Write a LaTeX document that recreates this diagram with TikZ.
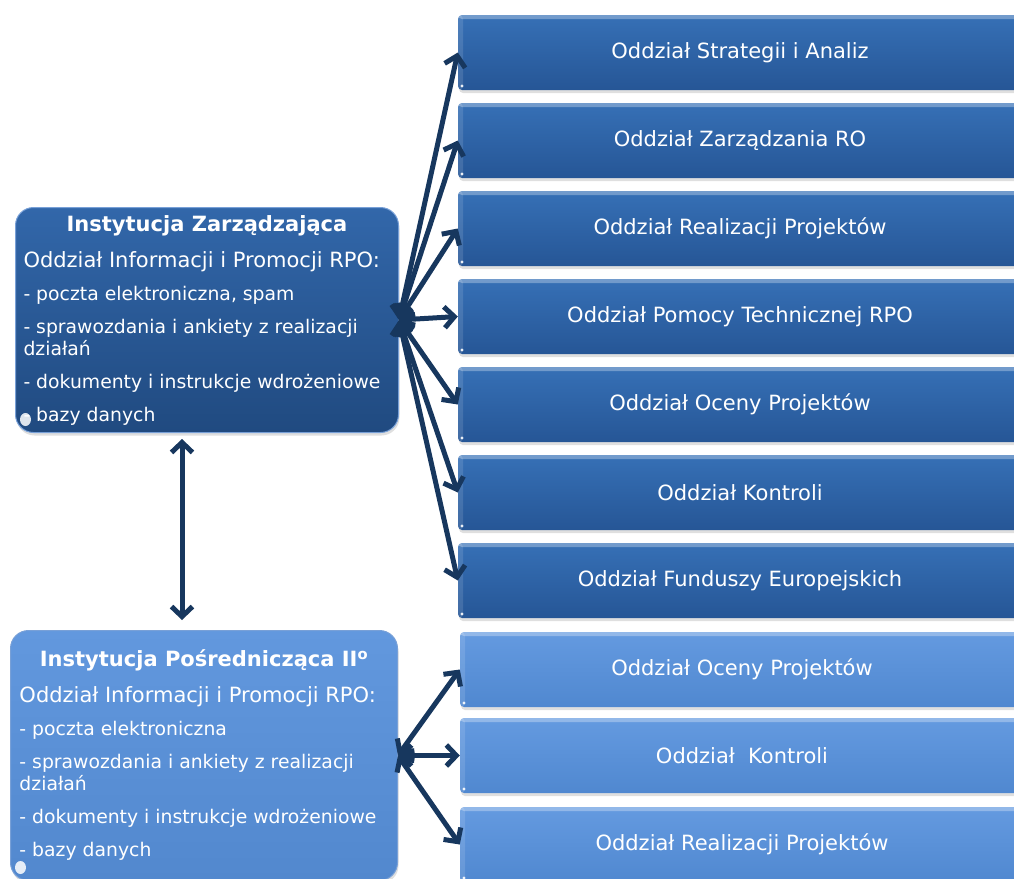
\documentclass[tikz,border=0pt]{standalone}
\usepackage{fontspec}
\setmainfont{DejaVu Sans}
\usetikzlibrary{arrows.meta,positioning,shadows}
\definecolor{dkTop}{RGB}{54,112,182}
\definecolor{dkBot}{RGB}{38,86,150}
\definecolor{ltTop}{RGB}{100,154,224}
\definecolor{ltBot}{RGB}{80,136,208}
\definecolor{izTop}{RGB}{50,103,170}
\definecolor{izBot}{RGB}{32,74,128}
\definecolor{ipTop}{RGB}{98,152,222}
\definecolor{ipBot}{RGB}{82,136,206}
\definecolor{edgeblue}{RGB}{120,160,215}
\definecolor{arrowblue}{RGB}{23,55,94}
% normal word spaces, also inside aligned nodes
\newcommand{\headfont}{\fontsize{21}{22}\selectfont\spaceskip=0pt\xspaceskip=0pt\relax}
\newcommand{\itemfont}{\fontsize{18.8}{22}\selectfont\spaceskip=0pt\xspaceskip=0pt\relax}
\tikzset{
  gloss/.style={path picture={
      \fill[white,opacity=.30] (path picture bounding box.north west) rectangle ([yshift=-4pt]path picture bounding box.north east);
      \fill[white,opacity=.12] (path picture bounding box.north west) rectangle ([xshift=5pt]path picture bounding box.south west);
      \fill[white,opacity=.9] ([shift={(4pt,4pt)}]path picture bounding box.south west) circle (1.7pt);
    }},
  unitbox/.style 2 args={rounded corners=4pt,top color=#1,bottom color=#2,text=white,font=\headfont,
    minimum width=564pt,minimum height=75pt,gloss,
    drop shadow={shadow xshift=1pt,shadow yshift=-3pt,opacity=.25}},
  instbox/.style 2 args={rounded corners=18pt,top color=#1,bottom color=#2,draw=edgeblue,line width=1pt,
    text=white,align=left,inner xsep=8pt,anchor=north west,
    execute at begin node={\setlength{\parskip}{11pt}\setlength{\parindent}{0pt}},
    drop shadow={shadow xshift=1pt,shadow yshift=-3pt,opacity=.25},
    path picture={
      \fill[white,opacity=.85] ([shift={(10pt,13pt)}]path picture bounding box.south west) ellipse (5.5pt and 6.5pt);
    }},
}
\begin{document}
\begin{tikzpicture}[x=1pt,y=-1pt,
    link/.style={draw=arrowblue,line width=5pt,
      arrows={Straight Barb[length=10pt,width=21pt]-Straight Barb[length=10pt,width=21pt]}},
  ]
  \useasboundingbox (0,0) rectangle (1014,878);
  \clip (0,0) rectangle (1014,878);

  % the two institutions
  \node[instbox={izTop}{izBot},minimum width=383pt,minimum height=225pt,text width=367pt] (iz) at (15,207)
    {{\centering\headfont\bfseries Instytucja Zarządzająca\par}
     \vspace{3pt}
     {\headfont Oddział Informacji i Promocji RPO:\par}
     \itemfont
     - poczta elektroniczna, spam\par
     - sprawozdania i ankiety z realizacji\\działań\par
     - dokumenty i instrukcje wdrożeniowe\par
     - bazy danych\par};
  \node[instbox={ipTop}{ipBot},minimum width=387pt,minimum height=250pt,text width=369pt,inner xsep=9pt] (ip) at (10,630)
    {{\centering\headfont\bfseries Instytucja Pośrednicząca II\textsuperscript{o}\par}
     \vspace{3pt}
     {\headfont Oddział Informacji i Promocji RPO:\par}
     \itemfont
     - poczta elektroniczna\par
     - sprawozdania i ankiety z realizacji\\działań\par
     - dokumenty i instrukcje wdrożeniowe\par
     - bazy danych\par};

  % departments of the managing authority
  \node[unitbox={dkTop}{dkBot}] (d1) at (740,52.5) {Oddział Strategii i Analiz};
  \node[unitbox={dkTop}{dkBot}] (d2) at (740,140.5) {Oddział Zarządzania RO};
  \node[unitbox={dkTop}{dkBot}] (d3) at (740,228.5) {Oddział Realizacji Projektów};
  \node[unitbox={dkTop}{dkBot}] (d4) at (740,316.5) {Oddział Pomocy Technicznej RPO};
  \node[unitbox={dkTop}{dkBot}] (d5) at (740,404.5) {Oddział Oceny Projektów};
  \node[unitbox={dkTop}{dkBot}] (d6) at (740,492.5) {Oddział Kontroli};
  \node[unitbox={dkTop}{dkBot}] (d7) at (740,580.5) {Oddział Funduszy Europejskich};

  % departments of the intermediate body
  \node[unitbox={ltTop}{ltBot}] (l1) at (742,669.5) {Oddział Oceny Projektów};
  \node[unitbox={ltTop}{ltBot}] (l2) at (742,755.5) {Oddział\ \ Kontroli};
  \node[unitbox={ltTop}{ltBot}] (l3) at (742,844.5) {Oddział Realizacji Projektów};

  % information flow
  \draw[link] (iz.east) -- (d1.west);
  \draw[link] (iz.east) -- (d2.west);
  \draw[link] (iz.east) -- (d3.west);
  \draw[link] (iz.east) -- (d4.west);
  \draw[link] (iz.east) -- (d5.west);
  \draw[link] (iz.east) -- (d6.west);
  \draw[link] (iz.east) -- (d7.west);
  \draw[link] (ip.east) -- (l1.west);
  \draw[link] (ip.east) -- (l2.west);
  \draw[link] (ip.east) -- (l3.west);
  \draw[link,shorten <=6pt,shorten >=10pt] ([xshift=-25pt]iz.south) -- ([xshift=-22pt]ip.north);
\end{tikzpicture}
\end{document}
